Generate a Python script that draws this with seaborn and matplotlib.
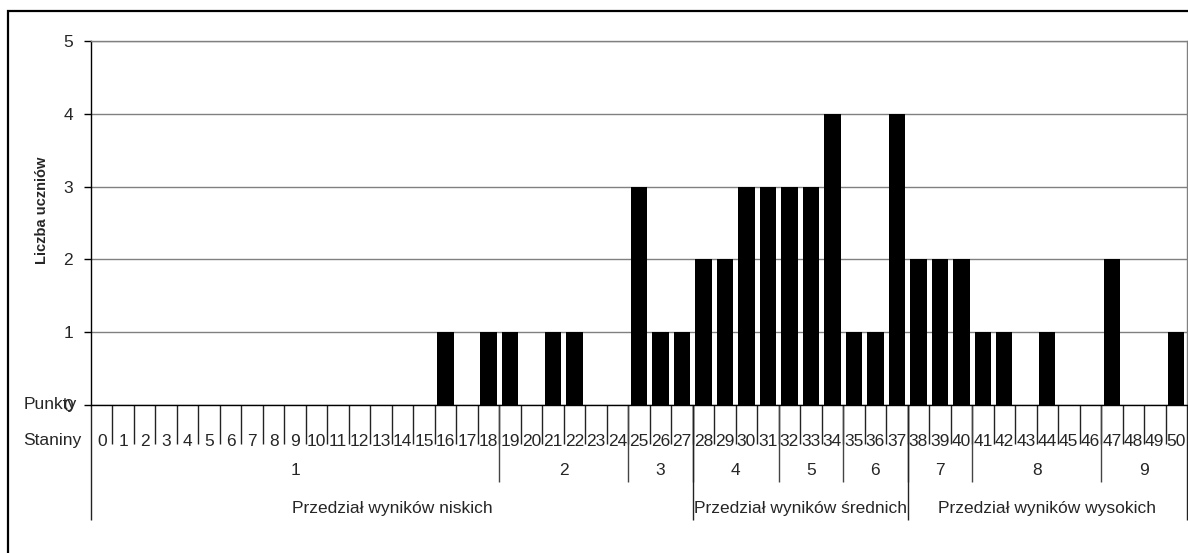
import matplotlib.pyplot as plt
import seaborn as sns
import pandas as pd
from matplotlib.patches import Rectangle

# points 0..50 and number of pupils
punkty = [str(p) for p in range(51)]
liczba = [0, 0, 0, 0, 0, 0, 0, 0, 0, 0,
          0, 0, 0, 0, 0, 0, 1, 0, 1, 1,
          0, 1, 1, 0, 0, 3, 1, 1, 2, 2,
          3, 3, 3, 3, 4, 1, 1, 4, 2, 2,
          2, 1, 1, 0, 1, 0, 0, 2, 0, 0,
          1]

# stanines: label and first point of each
staniny = ['1', '2', '3', '4', '5', '6', '7', '8', '9']
stanin_start = [0, 19, 25, 28, 32, 35, 38, 41, 47]

# result ranges
przedzialy = ['Przedział wyników niskich', 'Przedział wyników średnich',
              'Przedział wyników wysokich']
przedzial_start = [0, 28, 38]

df = pd.DataFrame({'punkty': punkty, 'liczba': liczba})

sns.set_style('white')
plt.rcParams['font.family'] = ['Liberation Sans', 'DejaVu Sans']

fig = plt.figure(figsize=(11.88, 5.53), dpi=100)
ax = fig.add_axes([91 / 1188, 1 - 405 / 553, 1096 / 1188, 364 / 553])

sns.barplot(data=df, x='punkty', y='liczba', order=punkty, color='black',
            width=0.76, saturation=1, linewidth=0, ax=ax)

ax.set_ylim(0, 5)
ax.set_xlim(-0.5, len(punkty) - 0.5)
ax.set_yticks(range(6))
ax.tick_params(axis='y', labelsize=12.5, length=5, width=1, color='black',
               pad=8, left=True)
ax.set_xticks([])
ax.set_xlabel('')
ax.set_ylabel('')
ax.yaxis.grid(True, color='#808080', lw=1)
ax.set_axisbelow(True)
for s in ['top', 'right']:
    ax.spines[s].set_color('#808080')
for s in ['left', 'bottom']:
    ax.spines[s].set_color('black')
for s in ax.spines.values():
    s.set_linewidth(1)

tr = ax.get_xaxis_transform()
n = len(punkty)

# table under the axis: points row
for i, p in enumerate(punkty):
    ax.text(i, -0.099, p, transform=tr, ha='center', va='center',
            fontsize=12.5, clip_on=False)
ax.vlines([i - 0.5 for i in range(1, n)], -0.107, 0, transform=tr,
          colors='#222222', lw=1, clip_on=False)

# stanine row
stanin_end = stanin_start[1:] + [n]
for lab, a, b in zip(staniny, stanin_start, stanin_end):
    ax.text((a + b - 1) / 2, -0.179, lab, transform=tr, ha='center',
            va='center', fontsize=12.5, clip_on=False)
ax.vlines([a - 0.5 for a in stanin_start[1:]], -0.2115, 0, transform=tr,
          colors='#444444', lw=1, clip_on=False)

# range row
przedzial_end = przedzial_start[1:] + [n]
for lab, a, b in zip(przedzialy, przedzial_start, przedzial_end):
    ax.text((a + b - 1) / 2, -0.283, lab, transform=tr, ha='center',
            va='center', fontsize=12.5, clip_on=False)
ax.vlines([a - 0.5 for a in przedzial_start] + [n - 0.5], -0.316, 0,
          transform=tr, colors='#222222', lw=1, clip_on=False)

# row captions
fig.text(50 / 1188, 1 - 405 / 553, 'Punkty', ha='center', va='center',
         fontsize=12.5)
fig.text(52 / 1188, 1 - 440 / 553, 'Staniny', ha='center', va='center',
         fontsize=12.5)
fig.text(42 / 1188, 1 - 210 / 553, 'Liczba uczniów', ha='center',
         va='center', rotation=90, fontsize=10.5, fontweight='bold')

# outer frame (cut off on right and bottom)
fig.add_artist(Rectangle((8 / 1188, -0.1), 1.2, 1.1 - 11 / 553,
                         transform=fig.transFigure, fill=False,
                         edgecolor='black', lw=1.6))

plt.savefig('out.png', dpi=100)
